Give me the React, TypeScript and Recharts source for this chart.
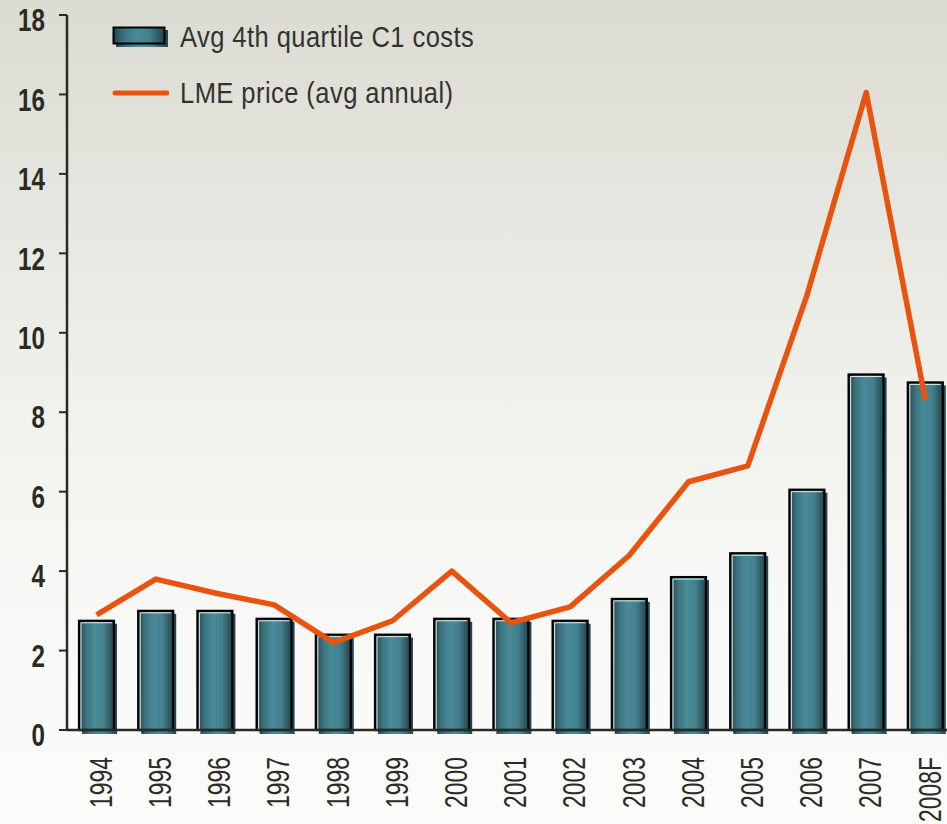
import React from "react";
import { ComposedChart, Bar, Line, XAxis, YAxis } from "recharts";

const years = ["1994", "1995", "1996", "1997", "1998", "1999", "2000", "2001", "2002", "2003", "2004", "2005", "2006", "2007", "2008F"];
const c1Costs = [2.75, 3.0, 3.0, 2.8, 2.4, 2.4, 2.8, 2.8, 2.75, 3.3, 3.85, 4.45, 6.05, 8.95, 8.75];
const lmePrice = [2.9, 3.8, 3.45, 3.15, 2.2, 2.75, 4.0, 2.7, 3.1, 4.4, 6.25, 6.65, 10.95, 16.05, 8.3];
const yTicks = [0, 2, 4, 6, 8, 10, 12, 14, 16, 18];
const legendLabels = ["Avg 4th quartile C1 costs", "LME price (avg annual)"];

const data = years.map((year, i) => ({ year, cost: c1Costs[i], lme: lmePrice[i] }));
// tick marks sit on the category boundaries, not the centres
const boundaryTicks = Array.from({ length: years.length + 1 }, (_, i) => i);

// no narrow font installed, so Liberation Sans gets squeezed horizontally
const FONT = "'Liberation Sans', Arial, sans-serif";
const AXIS = "#2a2a24";
const LINE = "#e8540f";
const TEXT = "#2b2b26";

function CostBar(props: any) {
  const { x, y, width, height } = props;
  if (!height || height <= 0) return null;
  return (
    <g>
      <rect x={x + 3} y={y + 3} width={width} height={height + 1} fill="url(#barFill)" />
      <rect x={x} y={y} width={width} height={height} fill="url(#barFill)" stroke="#000" strokeWidth={2.2} />
      <path
        d={`M${x + 2},${y + height - 1} V${y + 2} H${x + width - 2}`}
        stroke="#e6eaea"
        strokeWidth={1}
        fill="none"
      />
    </g>
  );
}

function YearTick(props: any) {
  const { x, y, payload } = props;
  return (
    <g transform={`translate(${x + 4},${y + 15})`}>
      <text transform="rotate(-90) scale(0.74,1)" textAnchor="end" dy="0.36em" fontSize={31} fontFamily={FONT} fill={TEXT}>
        {payload.value}
      </text>
    </g>
  );
}

function ValueTick(props: any) {
  const { x, y, payload } = props;
  return (
    <g transform={`translate(${x},${y + 5})`}>
      <text transform="scale(0.78,1)" dy="0.36em" textAnchor="end" fontSize={31} fontWeight={700} fontFamily={FONT} fill={TEXT}>
        {payload.value}
      </text>
    </g>
  );
}

function LegendBox() {
  const text: React.CSSProperties = {
    fontFamily: FONT,
    fontSize: 29,
    color: "#33332e",
    marginLeft: 11,
    letterSpacing: 0.5,
    display: "inline-block",
    whiteSpace: "nowrap",
    transform: "scaleX(0.88)",
    transformOrigin: "left center",
  };
  return (
    <div style={{ position: "absolute", left: 112, top: 16 }}>
      <div style={{ display: "flex", alignItems: "center", height: 42 }}>
        <svg width={57} height={22}>
          <rect x={4} y={4} width={52} height={17} fill="url(#barFillLegend)" />
          <rect x={1.5} y={1.5} width={51} height={16} fill="url(#barFillLegend)" stroke="#000" strokeWidth={2} />
        </svg>
        <span style={text}>{legendLabels[0]}</span>
      </div>
      <div style={{ display: "flex", alignItems: "center", height: 42, marginTop: 14 }}>
        <svg width={57} height={12}>
          <line x1={3} y1={6} x2={55} y2={6} stroke={LINE} strokeWidth={5} strokeLinecap="round" />
          <defs>
            <linearGradient id="barFillLegend" x1="0" y1="0" x2="1" y2="0">
              <stop offset="0%" stopColor="#24474f" />
              <stop offset="20%" stopColor="#3b717e" />
              <stop offset="45%" stopColor="#4a8b99" />
              <stop offset="70%" stopColor="#43808d" />
              <stop offset="100%" stopColor="#23444c" />
            </linearGradient>
          </defs>
        </svg>
        <span style={text}>{legendLabels[1]}</span>
      </div>
    </div>
  );
}

export default function App() {
  return (
    <div
      style={{
        position: "absolute",
        left: 0,
        top: 0,
        width: 947,
        height: 824,
        overflow: "hidden",
        background: "linear-gradient(to bottom, #dbdbd3 0%, #ebebe6 35%, #f6f6f3 65%, #fcfcfb 100%)",
      }}
    >
      <ComposedChart width={955} height={824} data={data} margin={{ top: 15, right: 0, bottom: 0, left: 0 }}>
        <defs>
          <linearGradient id="barFill" x1="0" y1="0" x2="1" y2="0">
            <stop offset="0%" stopColor="#24474f" />
            <stop offset="20%" stopColor="#3b717e" />
            <stop offset="45%" stopColor="#4a8b99" />
            <stop offset="70%" stopColor="#43808d" />
            <stop offset="100%" stopColor="#23444c" />
          </linearGradient>
        </defs>
        <XAxis
          xAxisId="marks"
          type="number"
          domain={[0, years.length]}
          ticks={boundaryTicks}
          height={0}
          tick={false}
          axisLine={false}
          tickLine={{ stroke: AXIS, strokeWidth: 2 }}
          tickSize={8}
        />
        <XAxis
          xAxisId="cat"
          dataKey="year"
          height={94}
          interval={0}
          tickLine={false}
          axisLine={{ stroke: AXIS, strokeWidth: 2.5 }}
          tick={<YearTick />}
          tickSize={8}
          tickMargin={4}
        />
        <YAxis
          width={67}
          domain={[0, 18]}
          ticks={yTicks}
          interval={0}
          axisLine={{ stroke: AXIS, strokeWidth: 2.5 }}
          tickLine={{ stroke: AXIS, strokeWidth: 2 }}
          tickSize={8}
          tickMargin={14}
          tick={<ValueTick />}
        />
        <Bar xAxisId="cat" dataKey="cost" barSize={35} shape={<CostBar />} isAnimationActive={false} />
        <Line
          xAxisId="cat"
          dataKey="lme"
          type="linear"
          stroke={LINE}
          strokeWidth={5.5}
          strokeLinejoin="round"
          dot={false}
          activeDot={false}
          isAnimationActive={false}
        />
      </ComposedChart>
      <LegendBox />
    </div>
  );
}
